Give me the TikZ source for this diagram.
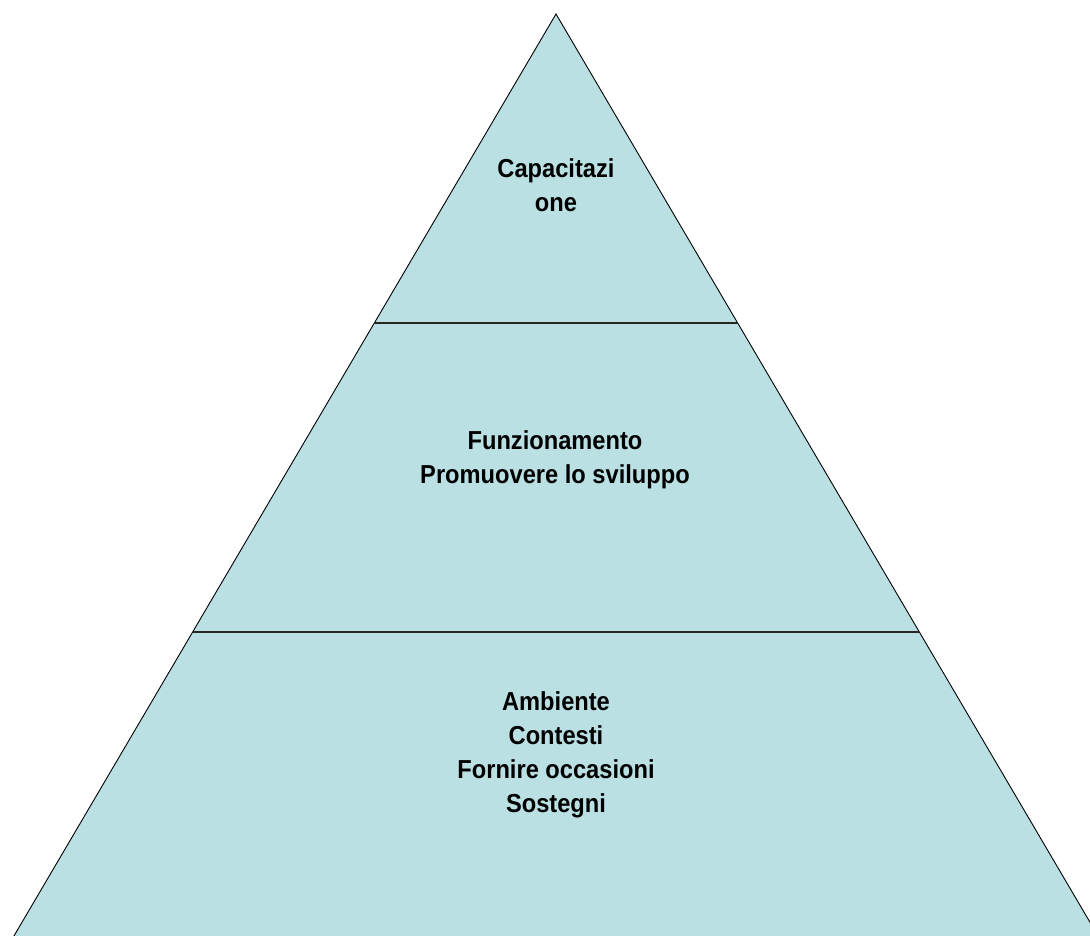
\documentclass[tikz,border=0pt]{standalone}
\usepackage{fontspec}
\setmainfont{Liberation Sans}
\newfontfamily\pyrfont[FakeStretch=0.91]{Liberation Sans}
\definecolor{pyrfill}{RGB}{186,224,228}
\begin{document}
\begin{tikzpicture}[x=1pt,y=-1pt,
  lbl/.style={align=center,font=\pyrfont\fontsize{26}{34}\selectfont\bfseries,inner sep=0pt},
  edge/.style={draw=black,line width=0.9pt,line join=miter},
  sep/.style={draw=black!85,line width=2pt}]
\useasboundingbox (0,0) rectangle (1090,936);
\clip (0,0) rectangle (1090,936);
\coordinate (apex) at (556,14);
\coordinate (bl) at (5.7,950);
\coordinate (br) at (1106.3,950);
\fill[pyrfill] (apex) -- (bl) -- (br) -- cycle;
\draw[edge] (bl) -- (apex) -- (br);
\coordinate (l1a) at (374.3,323);
\coordinate (l1b) at (737.7,323);
\coordinate (l2a) at (192.7,632);
\coordinate (l2b) at (919.3,632);
\draw[sep] (l1a) -- (l1b);
\draw[sep] (l2a) -- (l2b);
\node[lbl] (top) at (556,185) {Capacitazi\\one};
\node[lbl] (mid) at (555,460) {Funzionamento\\Promuovere lo sviluppo};
\node[lbl] (bot) at (556,755) {Ambiente\\Contesti\\Fornire occasioni\\Sostegni};
\end{tikzpicture}
\end{document}
